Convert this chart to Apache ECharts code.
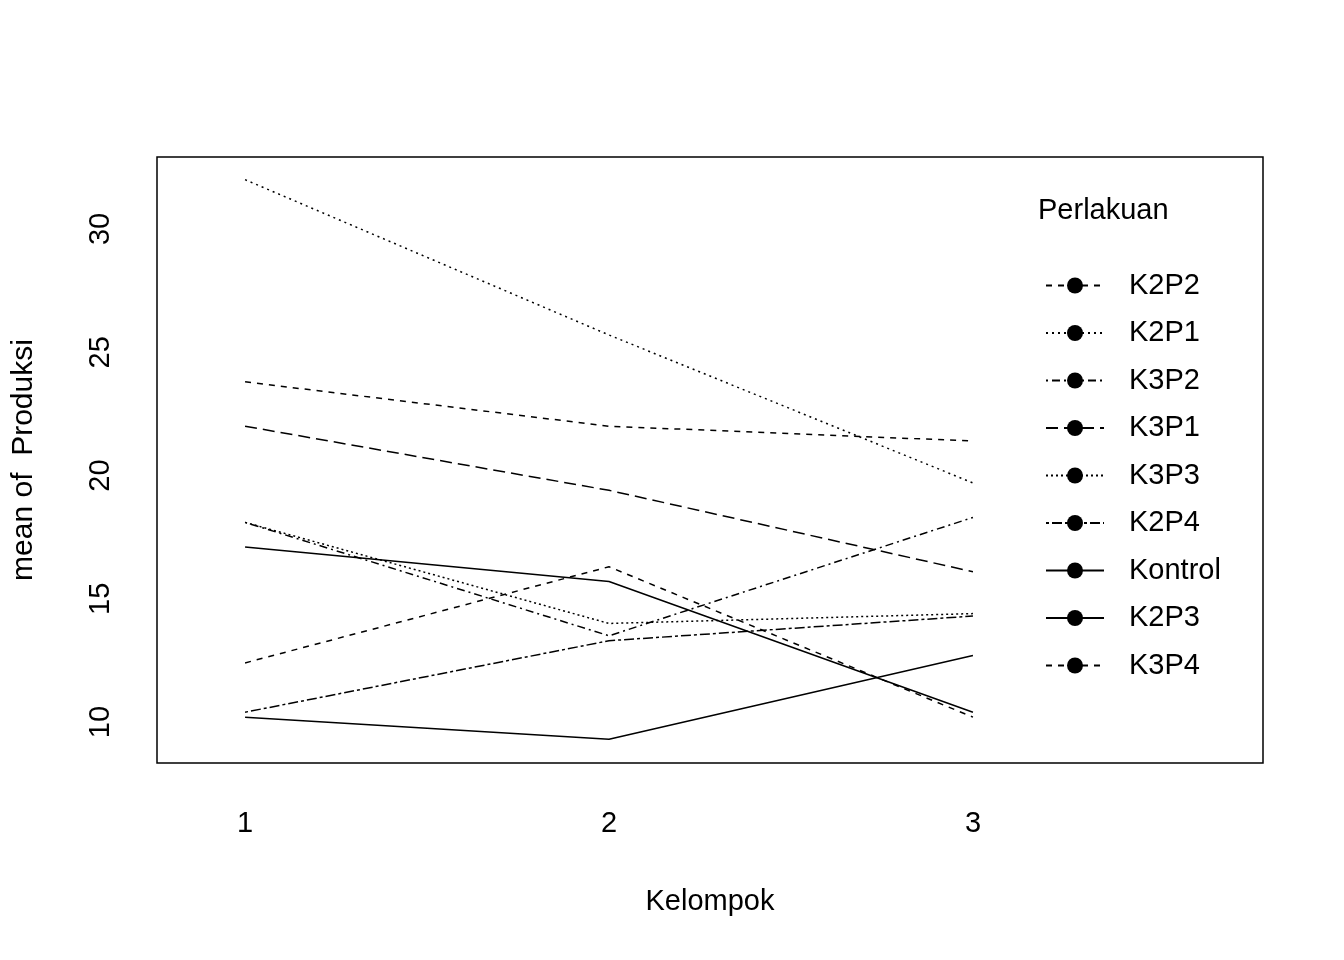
<!DOCTYPE html>
<html>
<head>
<meta charset="utf-8">
<title>interaction plot</title>
<script src="https://cdn.jsdelivr.net/npm/echarts@6/dist/echarts.min.js"></script>
<style>html,body{margin:0;background:#fff}#main{width:1344px;height:960px}</style>
</head>
<body>
<div id="main"></div>
<script>
var kelompok = [1, 2, 3];
var names = ['K2P2', 'K2P1', 'K3P2', 'K3P1', 'K3P3', 'K2P4', 'Kontrol', 'K2P3', 'K3P4'];
var K2P2 = [23.8, 22.0, 21.4];
var K2P1 = [32.0, 25.7, 19.7];
var K3P2 = [18.1, 13.5, 18.3];
var K3P1 = [22.0, 19.4, 16.1];
var K3P3 = [18.1, 14.0, 14.4];
var K2P4 = [10.4, 13.3, 14.3];
var Kontrol = [10.2, 9.3, 12.7];
var K2P3 = [17.1, 15.7, 10.4];
var K3P4 = [12.4, 16.3, 10.2];
var values = [K2P2, K2P1, K3P2, K3P1, K3P3, K2P4, Kontrol, K2P3, K3P4];
var dashes = [[6, 6], [2, 4], [2, 4, 8, 4], [12, 6], [2, 3], [3, 3, 10, 3], 'solid', 'solid', [6, 6]];

var font = 'Liberation Sans, Arial, sans-serif';
var chart = echarts.init(document.getElementById('main'));
var series = names.map(function (n, i) {
    return {
        name: n,
        type: 'line',
        showSymbol: false,
        symbol: 'none',
        animation: false,
        lineStyle: { color: '#000', width: 1.5, type: dashes[i] },
        itemStyle: { color: '#000' },
        data: kelompok.map(function (k, j) { return [k, values[i][j]]; })
    };
});

chart.setOption({
    backgroundColor: '#fff',
    grid: { left: 157, right: 81, top: 157, bottom: 197, show: true, borderColor: '#000', borderWidth: 1.5, containLabel: false },
    xAxis: {
        type: 'value', min: 0.758, max: 3.797,
        name: 'Kelompok', nameLocation: 'middle', nameGap: 124,
        nameTextStyle: { fontFamily: font, fontSize: 29, color: '#000' },
        axisLine: { show: false }, axisTick: { show: false }, splitLine: { show: false },
        axisLabel: { customValues: [1, 2, 3], margin: 46, fontFamily: font, fontSize: 29, color: '#000' }
    },
    yAxis: {
        type: 'value', min: 8.34, max: 32.92,
        name: 'mean of  Produksi', nameLocation: 'middle', nameGap: 118,
        nameTextStyle: { fontFamily: font, fontSize: 30, color: '#000' },
        axisLine: { show: false }, axisTick: { show: false }, splitLine: { show: false },
        axisLabel: { customValues: [10, 15, 20, 25, 30], rotate: 90, margin: 42, fontFamily: font, fontSize: 29, color: '#000' }
    },
    legend: {
        orient: 'vertical', left: 1040, top: 266, itemWidth: 58, itemHeight: 20, itemGap: 18.5,
        textStyle: { fontFamily: font, fontSize: 29, lineHeight: 20, color: '#000', padding: [0, 0, 0, 20] },
        selectedMode: false,
        data: names
    },
    graphic: [{
        type: 'text', left: 1038, top: 196,
        style: { text: 'Perlakuan', font: '29px ' + font, fill: '#000' }
    }],
    series: series
});
</script>
</body>
</html>
